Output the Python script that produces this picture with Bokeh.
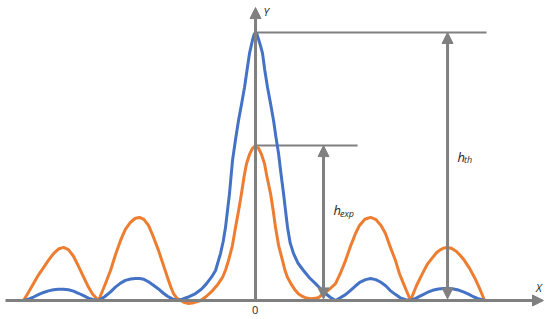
from bokeh.plotting import figure
from bokeh.models import Arrow, NormalHead, Range1d
from bokeh.core.properties import value
from bokeh.embed import file_html
from bokeh.resources import INLINE

# ---- data (x: position, y: intensity normalised to the theoretical peak) ----
blue_x = [-3.013, -2.95, -2.883, -2.82, -2.753, -2.69, -2.623, -2.56, -2.494, -2.43,
          -2.364, -2.30, -2.234, -2.17, -2.117, -2.039,
          -1.96, -1.883, -1.82, -1.753, -1.69, -1.623, -1.56, -1.506, -1.45, -1.39,
          -1.33, -1.26, -1.20, -1.143, -1.08, -1.013,
          -0.95, -0.883, -0.779, -0.70, -0.636, -0.57, -0.519, -0.455, -0.42, -0.390,
          -0.338, -0.299, -0.26, -0.221, -0.18, -0.143, -0.11, -0.078, -0.039, -0.018,
          0.0, 0.02, 0.039, 0.065, 0.091, 0.12, 0.156, 0.195, 0.234, 0.265, 0.299, 0.33,
          0.364, 0.39, 0.416, 0.45, 0.494, 0.55, 0.623, 0.70, 0.779, 0.85, 0.909, 0.97,
          1.039, 1.10, 1.169, 1.23, 1.30, 1.36, 1.43, 1.494, 1.56, 1.623, 1.69, 1.75,
          1.82, 1.88, 1.95, 2.013, 2.08, 2.15, 2.23, 2.30, 2.377, 2.44, 2.506, 2.57,
          2.636, 2.70, 2.766, 2.83, 2.883, 2.94, 2.987]
blue_y = [0.0, 0.005, 0.013, 0.022, 0.030, 0.036, 0.040, 0.042, 0.042, 0.040,
          0.035, 0.027, 0.018, 0.009, 0.004, 0.0,
          0.014, 0.032, 0.050, 0.065, 0.075, 0.080, 0.082, 0.082, 0.079, 0.070,
          0.058, 0.043, 0.028, 0.016, 0.006, 0.0,
          0.005, 0.012, 0.026, 0.043, 0.063, 0.088, 0.112, 0.175, 0.220, 0.272,
          0.399, 0.522, 0.600, 0.672, 0.735, 0.795, 0.860, 0.922, 0.972, 0.993,
          1.0, 0.993, 0.975, 0.950, 0.922, 0.860, 0.795, 0.735, 0.672, 0.610, 0.549, 0.475,
          0.399, 0.335, 0.272, 0.215, 0.175, 0.140, 0.112, 0.085, 0.063, 0.042, 0.026, 0.012,
          0.0, 0.010, 0.022, 0.037, 0.055, 0.069, 0.078, 0.082, 0.078, 0.069, 0.055, 0.037,
          0.022, 0.010, 0.003, 0.0, 0.008, 0.018, 0.030, 0.038, 0.043, 0.045, 0.045, 0.043,
          0.039, 0.032, 0.024, 0.014, 0.008, 0.003, 0.0]

orange_x = [-3.013, -2.95, -2.883, -2.82, -2.753, -2.69, -2.623, -2.56, -2.494, -2.43,
            -2.364, -2.30, -2.234, -2.17, -2.117, -2.039,
            -1.96, -1.883, -1.82, -1.753, -1.69, -1.623, -1.56, -1.506, -1.45, -1.39,
            -1.33, -1.26, -1.20, -1.143, -1.10, -1.065, -1.02, -0.974,
            -0.92, -0.870, -0.80, -0.714, -0.64, -0.558, -0.49, -0.429, -0.39, -0.351,
            -0.30, -0.260, -0.22, -0.182, -0.15, -0.117, -0.078, -0.039, 0.0,
            0.039, 0.078, 0.117, 0.15, 0.195, 0.23, 0.260, 0.30, 0.351, 0.38, 0.416,
            0.47, 0.519, 0.56, 0.610, 0.66, 0.714, 0.77, 0.818, 0.883, 0.96, 1.039,
            1.10, 1.169, 1.23, 1.299, 1.35, 1.42, 1.494, 1.56, 1.63, 1.688, 1.75, 1.818,
            1.87, 1.922, 1.97, 2.013, 2.09, 2.169, 2.23, 2.299, 2.35, 2.403, 2.45, 2.494,
            2.55, 2.610, 2.66, 2.714, 2.78, 2.844, 2.91, 2.974]
orange_y = [0.0, 0.030, 0.063, 0.095, 0.123, 0.150, 0.175, 0.192, 0.198, 0.190,
            0.165, 0.128, 0.088, 0.050, 0.024, 0.0,
            0.055, 0.112, 0.170, 0.224, 0.265, 0.292, 0.307, 0.310, 0.303, 0.280,
            0.240, 0.187, 0.135, 0.086, 0.050, 0.026, 0.008, 0.0,
            -0.008, -0.011, -0.008, 0.0, 0.015, 0.037, 0.060, 0.086, 0.113, 0.149,
            0.205, 0.272, 0.335, 0.399, 0.460, 0.510, 0.545, 0.568, 0.578,
            0.568, 0.545, 0.510, 0.460, 0.399, 0.335, 0.272, 0.205, 0.149, 0.115, 0.086,
            0.058, 0.037, 0.024, 0.015, 0.009, 0.007, 0.008, 0.011, 0.026, 0.042, 0.063,
            0.100, 0.149, 0.200, 0.250, 0.280, 0.303, 0.310, 0.303, 0.280, 0.250, 0.200, 0.149,
            0.100, 0.063, 0.030, 0.0, 0.055, 0.101, 0.135, 0.160, 0.178, 0.190, 0.196, 0.198,
            0.194, 0.183, 0.168, 0.149, 0.120, 0.086, 0.045, 0.0]

axis_labels = ["X", "Y", "0"]
h_labels = [("h", "th"), ("h", "exp")]

BLUE = "#4472C4"
ORANGE = "#ED7D31"
GRAY = "#808080"
TEXT = "#262626"
FONT = "Open Sans"

h_th = max(blue_y)
h_exp = max(orange_y)

p = figure(width=550, height=319, output_backend="svg", toolbar_location=None,
           x_range=Range1d(-3.312, 3.831), y_range=Range1d(-0.0709, 1.1194),
           min_border=0, min_border_left=0, min_border_right=0,
           min_border_top=0, min_border_bottom=0)
p.xaxis.visible = False
p.yaxis.visible = False
p.grid.visible = False
p.outline_line_color = None
p.background_fill_color = "white"
p.border_fill_color = "white"

def head(sz=10):
    return NormalHead(size=sz, fill_color=GRAY, line_color=GRAY, line_width=1)

# axes with arrowheads
p.add_layout(Arrow(end=head(11), x_start=-3.247, y_start=0, x_end=3.74, y_end=0,
                   line_color=GRAY, line_width=3))
p.add_layout(Arrow(end=head(11), x_start=0, y_start=0, x_end=0, y_end=1.093,
                   line_color=GRAY, line_width=3))

# level lines
p.segment(x0=[0, 0], y0=[h_th, h_exp], x1=[3.0, 1.325], y1=[h_th, h_exp],
          line_color=GRAY, line_width=2)

# curves
p.line(orange_x, orange_y, line_color=ORANGE, line_width=3, line_join="round")
p.line(blue_x, blue_y, line_color=BLUE, line_width=3, line_join="round")

# height arrows
p.add_layout(Arrow(start=head(11), end=head(11), x_start=2.494, y_start=0.006,
                   x_end=2.494, y_end=h_th, line_color=GRAY, line_width=3))
p.add_layout(Arrow(start=head(11), end=head(11), x_start=0.883, y_start=0.006,
                   x_end=0.883, y_end=h_exp, line_color=GRAY, line_width=3))

# axis labels
p.text(x=[3.695, 0.104], y=[0.050, 1.080], text=axis_labels[:2],
       text_font=value(FONT), text_font_style="italic", text_font_size="11px",
       text_color=TEXT, text_align="left", text_baseline="middle",
       x_offset=[-4, 0])
p.text(x=[-0.006], y=[-0.035], text=[axis_labels[2]], text_font=value(FONT),
       text_font_size="11px", text_color=TEXT, text_align="center",
       text_baseline="middle")

# h labels
p.text(x=[2.623, 1.013], y=[0.534, 0.336], text=[h_labels[0][0], h_labels[1][0]],
       text_font=value(FONT), text_font_style="italic", text_font_size="13px",
       text_color=TEXT, text_align="left", text_baseline="alphabetic")
p.text(x=[2.708, 1.097], y=[0.526, 0.325], text=[h_labels[0][1], h_labels[1][1]],
       text_font=value(FONT), text_font_style="italic", text_font_size="9px",
       text_color=TEXT, text_align="left", text_baseline="alphabetic")

open("out.html", "w").write(file_html(p, INLINE))
